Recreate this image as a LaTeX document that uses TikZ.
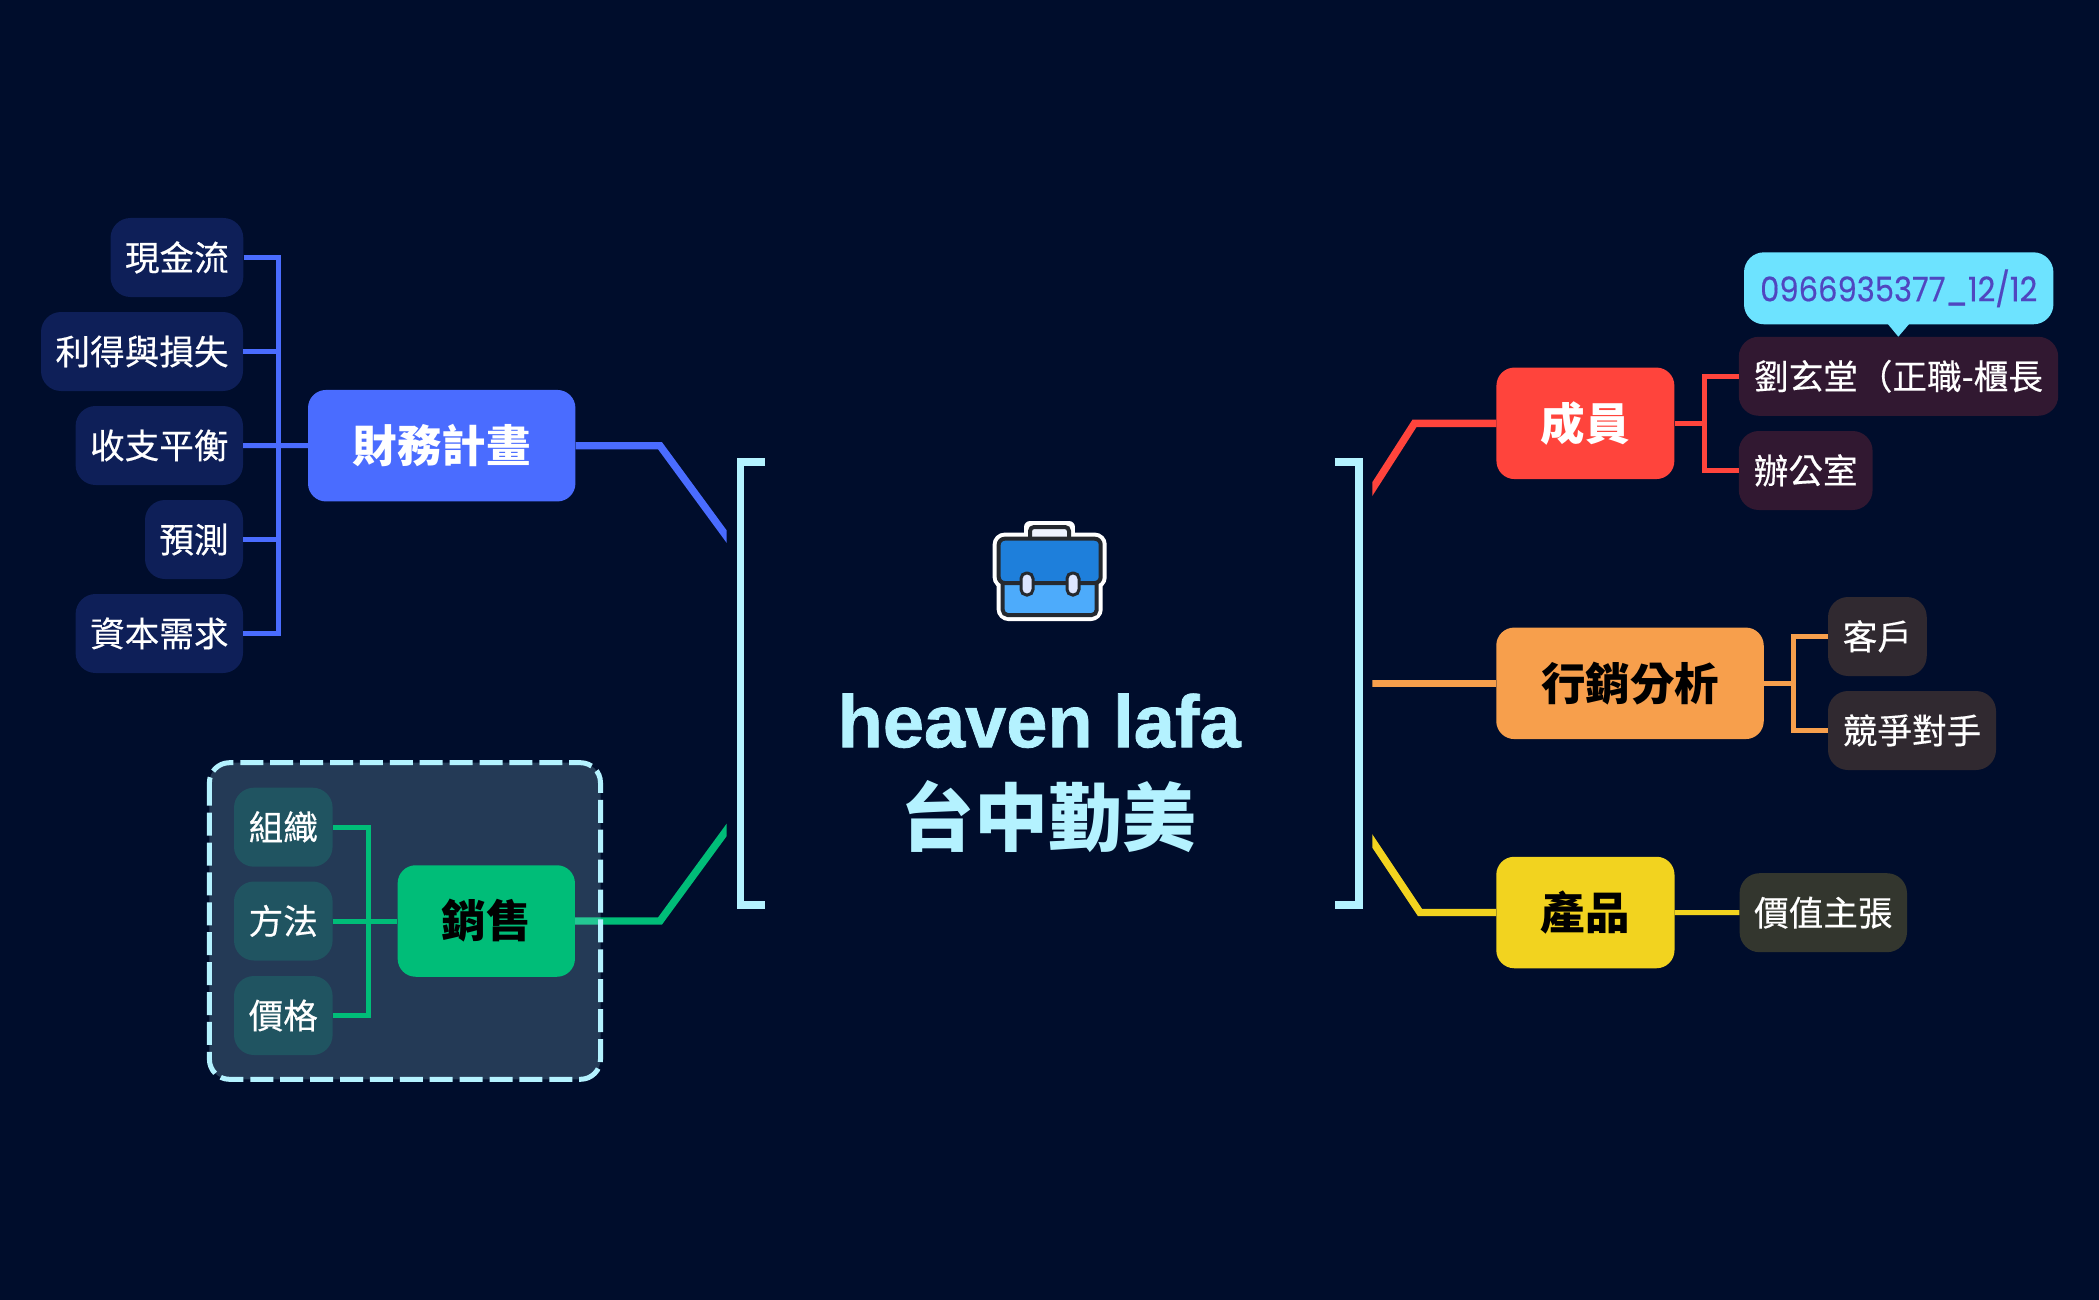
\documentclass[tikz,border=0pt]{standalone}
\usepackage{fontspec}
\setmainfont{Noto Sans CJK TC}
\newfontfamily\leaffont[FakeBold=0.4]{Noto Sans CJK TC}
\newfontfamily\titlefont[BoldFeatures={FakeBold=1}]{Liberation Sans}
\newfontfamily\notefont[FakeStretch=0.9,FakeBold=0.4]{Poppins}
\definecolor{bgdark}{HTML}{000D2C}
\definecolor{light}{HTML}{B4F2FF}
\definecolor{bluemain}{HTML}{4A6CFF}
\definecolor{greenmain}{HTML}{00BD78}
\definecolor{redmain}{HTML}{FF443C}
\definecolor{orangemain}{HTML}{F79F4C}
\definecolor{yellowmain}{HTML}{F2D31F}
\definecolor{blueleaf}{HTML}{0E1F58}
\definecolor{greenleaf}{HTML}{205461}
\definecolor{redleaf}{HTML}{311831}
\definecolor{orangeleaf}{HTML}{302930}
\definecolor{yellowleaf}{HTML}{33362E}
\definecolor{notefill}{HTML}{6DE3FF}
\definecolor{notetext}{HTML}{5046C0}
\definecolor{bagdark}{HTML}{25292F}
\definecolor{baglid}{HTML}{1E7FDB}
\definecolor{bagbody}{HTML}{4DABFB}
\definecolor{bagclasp}{HTML}{DCE5FF}
\definecolor{baghandle}{HTML}{EEF3FF}
\pgfdeclarelayer{linklayer}
\pgfdeclarelayer{grouplayer}
\pgfsetlayers{linklayer,grouplayer,main}
\tikzset{
  mainbox/.style={rounded corners=18pt, inner sep=0pt, minimum height=111.5pt,
    font=\fontsize{44.5}{44.5}\selectfont\bfseries, text height=39.2pt, text depth=5.3pt},
  leafbox/.style={rounded corners=20pt, inner sep=0pt, minimum height=79pt, text=white,
    font=\leaffont\fontsize{34.6}{34.6}\selectfont, text height=30.4pt, text depth=4.2pt},
  toplink/.style={line width=7.4pt, miter limit=10},
  sublink/.style={line width=5pt},
  bracket/.style={draw=light, line width=7.4pt},
  bagline/.style={draw=bagdark, line width=4pt},
  bagedge/.style={draw=white, line width=12pt},
}
\begin{document}
\begin{tikzpicture}[x=1pt,y=-1pt]
  \useasboundingbox (0,0) rectangle (2099,1300);
  \begin{pgfonlayer}{linklayer}
    \fill[bgdark] (0,0) rectangle (2099,1300);
  \end{pgfonlayer}

  % centre
  \node[align=center, text=light, inner sep=0pt, font=\fontsize{74}{98}\selectfont\bfseries] (title) at (1048.7,773)
    {{\titlefont heaven lafa\hspace*{19pt}}\\台中勤美};
  \coordinate (brLtop) at (765,462);
  \coordinate (brLbot) at (765,905);
  \coordinate (brRtop) at (1334.5,462);
  \coordinate (brRbot) at (1334.5,905);
  \draw[bracket] (brLtop) -- (740.3,462) -- (740.3,905) -- (brLbot);
  \draw[bracket] (brRtop) -- (1358.9,462) -- (1358.9,905) -- (brRbot);

  % briefcase
  \draw[bagedge, line join=round] (1030,538) -- (1030,527) -- (1069,527) -- (1069,538);
  \draw[bagedge, rounded corners=6pt] (998.7,538.7) rectangle (1100.7,583);
  \draw[bagedge, rounded corners=6pt] (1002.7,570) rectangle (1096.7,615);
  \fill[baghandle] (1030,527) rectangle (1069,538);
  \draw[bagline, rounded corners=4pt] (1030,538) -- (1030,527) -- (1069,527) -- (1069,538);
  \draw[bagline, fill=bagbody, rounded corners=5pt] (1002.7,570) rectangle (1096.7,615);
  \draw[bagline, fill=baglid, rounded corners=6pt] (998.7,538.7) rectangle (1100.7,583);
  \draw[draw=bagdark, line width=3pt, fill=bagclasp, rounded corners=5.5pt] (1021,573) rectangle (1033,595);
  \draw[draw=bagdark, line width=3pt, fill=bagclasp, rounded corners=5.5pt] (1067,573) rectangle (1079,595);

  % finance
  \node[mainbox, fill=bluemain, text=white, minimum width=267.4pt] (caiwu) at (441.7,445.7) {財務計畫};
  \node[leafbox, fill=blueleaf, minimum width=132.8pt] (xianjin) at (176.9,257.5) {現金流};
  \node[leafbox, fill=blueleaf, minimum width=202pt] (lide) at (142,351.5) {利得與損失};
  \node[leafbox, fill=blueleaf, minimum width=167.4pt] (shouzhi) at (159.3,445.5) {收支平衡};
  \node[leafbox, fill=blueleaf, minimum width=98pt] (yuce) at (194,539.5) {預測};
  \node[leafbox, fill=blueleaf, minimum width=167.4pt] (ziben) at (159.3,633.5) {資本需求};
  \coordinate (bluebus) at (278.8,445.5);
  \draw[sublink, bluemain] (xianjin.east) -| (bluebus);
  \draw[sublink, bluemain] (ziben.east) -| (bluebus);
  \draw[sublink, bluemain] (lide.east) -- (lide.east -| bluebus);
  \draw[sublink, bluemain] (yuce.east) -- (yuce.east -| bluebus);
  \draw[sublink, bluemain] (shouzhi.east) -- (caiwu.west);

  % sales
  \begin{pgfonlayer}{grouplayer}
    \draw[draw=light, line width=5pt, dash pattern=on 23pt off 6.9pt, fill=light, fill opacity=.2, rounded corners=20pt]
      (209.4,762.7) rectangle (600.5,1079.3);
  \end{pgfonlayer}
  \node[mainbox, fill=greenmain, text=black, minimum width=177.3pt] (xiaoshou) at (486.3,921) {銷售};
  \node[leafbox, fill=greenleaf, minimum width=98.6pt] (zuzhi) at (283.3,827.2) {組織};
  \node[leafbox, fill=greenleaf, minimum width=98.6pt] (fangfa) at (283.3,921) {方法};
  \node[leafbox, fill=greenleaf, minimum width=98.6pt] (jiage) at (283.3,1015.5) {價格};
  \coordinate (greenbus) at (368,921);
  \draw[sublink, greenmain] (zuzhi.east) -| (greenbus);
  \draw[sublink, greenmain] (jiage.east) -| (greenbus);
  \draw[sublink, greenmain] (fangfa.east) -- (xiaoshou.west);

  % members
  \node[mainbox, fill=redmain, text=white, minimum width=177.9pt] (chengyuan) at (1585.4,423.3) {成員};
  \node[leafbox, fill=redleaf, minimum width=319.4pt] (liu) at (1898.5,376.3) {劉玄堂（正職-櫃長};
  \node[leafbox, fill=redleaf, minimum width=133.8pt] (bangong) at (1805.7,470.5) {辦公室};
  \coordinate (redbus) at (1704.5,423.3);
  \draw[sublink, redmain] (liu.west) -| (redbus);
  \draw[sublink, redmain] (bangong.west) -| (redbus);
  \draw[sublink, redmain] (chengyuan.east) -- (redbus);
  \fill[notefill] (1887,323) -- (1910,323) -- (1898.3,336.7) -- cycle;
  \node[fill=notefill, text=notetext, rounded corners=20pt, inner sep=0pt, minimum width=309.4pt, minimum height=72pt,
    font=\notefont\fontsize{34}{34}\selectfont] (note) at (1898.7,288.3) {0966935377\_12/12};

  % marketing
  \node[mainbox, fill=orangemain, text=black, minimum width=267.5pt] (xingxiao) at (1630,683.3) {行銷分析};
  \node[leafbox, fill=orangeleaf, minimum width=98.7pt] (kehu) at (1877.4,636.5) {客戶};
  \node[leafbox, fill=orangeleaf, minimum width=168pt] (jingzheng) at (1912,730.5) {競爭對手};
  \coordinate (orangebus) at (1793.2,683.3);
  \draw[sublink, orangemain] (kehu.west) -| (orangebus);
  \draw[sublink, orangemain] (jingzheng.west) -| (orangebus);
  \draw[sublink, orangemain] (xingxiao.east) -- (orangebus);

  % product
  \node[mainbox, fill=yellowmain, text=black, minimum width=178.2pt] (chanpin) at (1585.4,912.5) {產品};
  \node[leafbox, fill=yellowleaf, minimum width=167.4pt] (jiazhi) at (1823.3,912.7) {價值主張};
  \draw[sublink, yellowmain] (chanpin.east) -- (jiazhi.west);

  % links to the brackets
  \coordinate (blueend) at (735,548);
  \coordinate (greenend) at (735,818.5);
  \coordinate (redend) at (1365,500.5);
  \coordinate (orangeend) at (1372,683.3);
  \coordinate (yellowend) at (1366,831.5);
  \begin{pgfonlayer}{linklayer}
    \begin{scope}
      \clip (0,0) rectangle (726.6,1300);
      \draw[toplink, bluemain] (caiwu.east) -- (660,445.7) -- (blueend);
      \draw[toplink, greenmain] (xiaoshou.east) -- (660,921) -- (greenend);
    \end{scope}
    \begin{scope}
      \clip (1372.4,0) rectangle (2099,1300);
      \draw[toplink, redmain] (chengyuan.west) -- (1414.5,423.3) -- (redend);
      \draw[toplink, orangemain] (xingxiao.west) -- (orangeend);
      \draw[toplink, yellowmain] (chanpin.west) -- (1420,912.5) -- (yellowend);
    \end{scope}
  \end{pgfonlayer}
\end{tikzpicture}
\end{document}
